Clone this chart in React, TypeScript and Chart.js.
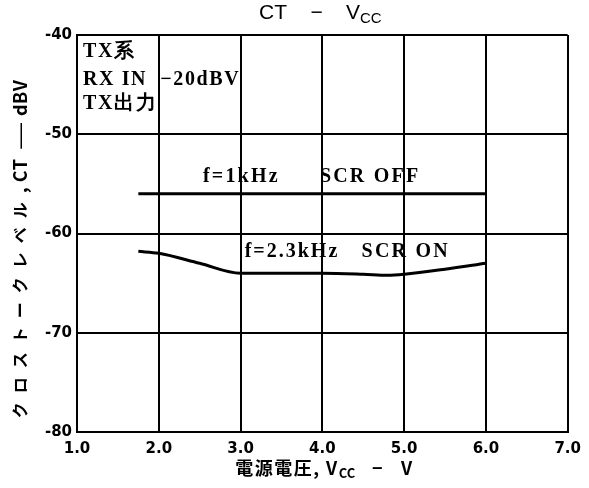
import React, { useEffect, useRef } from "react";
import { Chart, registerables } from "chart.js";

Chart.register(...registerables);

const xTicks = [1, 2, 3, 4, 5, 6, 7];
const yTicks = [-80, -70, -60, -50, -40];

const scrOffX = [1.75, 2.0, 3.0, 4.0, 5.0, 6.0];
const scrOffY = [-56, -56, -56, -56, -56, -56];

const scrOnX = [1.75, 2.0, 2.5, 3.0, 3.5, 4.0, 4.5, 4.8, 5.0, 5.5, 6.0];
const scrOnY = [-61.8, -62.0, -63.0, -64.0, -64.0, -64.0, -64.1, -64.2, -64.1, -63.6, -63.0];

const noteLines = ["TX系", "RX IN  −20dBV", "TX出力"];
const offFreq = "f=1kHz";
const offMode = "SCR OFF";
const onFreq = "f=2.3kHz";
const onMode = "SCR ON";

type Seg = { t: string; sub?: boolean; sp?: number; sz?: number };

function drawSegs(
  ctx: CanvasRenderingContext2D,
  segs: Seg[],
  x: number,
  y: number,
  size: number,
  font: string,
  align: "left" | "center",
  weight = "normal",
  spacing = 0
) {
  const setFont = (s: Seg) => {
    const base = s.sz !== undefined ? s.sz : size;
    ctx.font = `${weight} ${s.sub ? Math.round(base * 0.72) : base}px ${font}`;
    const sp = s.sp !== undefined ? s.sp : s.sub ? 0 : spacing;
    (ctx as any).letterSpacing = `${sp}px`;
  };
  const widths = segs.map((s) => {
    setFont(s);
    return ctx.measureText(s.t).width;
  });
  const total = widths.reduce((a, b) => a + b, 0);
  let cx = align === "center" ? x - total / 2 : x;
  segs.forEach((s, i) => {
    setFont(s);
    ctx.textAlign = "left";
    ctx.textBaseline = "middle";
    ctx.fillText(s.t, cx, s.sub ? y + size * 0.28 : y);
    cx += widths[i];
  });
  (ctx as any).letterSpacing = "0px";
}

const SERIF = "'Liberation Serif', serif";
const JP = "'Noto Sans CJK JP', sans-serif";

const textPlugin = {
  id: "texts",
  afterDraw(chart: any) {
    const ctx = chart.ctx as CanvasRenderingContext2D;
    const xs = chart.scales.x;
    const ys = chart.scales.y;
    const area = chart.chartArea;
    ctx.save();
    ctx.fillStyle = "#000";
    // title
    drawSegs(
      ctx,
      [{ t: "CT    −    V" }, { t: "CC", sub: true }],
      (area.left + area.right) / 2 - 2,
      13,
      21,
      "'Liberation Sans', sans-serif",
      "center"
    );
    // note block
    const noteY = [52, 79.5, 104];
    noteLines.forEach((l, i) => drawSegs(ctx, [{ t: l }], area.left + 6, noteY[i], 20, SERIF, "left", "bold", 1.6));
    // series labels
    const yOff = ys.getPixelForValue(-54.3);
    drawSegs(ctx, [{ t: offFreq }], xs.getPixelForValue(2.54), yOff, 20, SERIF, "left", "bold", 2.2);
    drawSegs(ctx, [{ t: offMode }], xs.getPixelForValue(3.97), yOff, 20, SERIF, "left", "bold", 2.2);
    const yOn = ys.getPixelForValue(-61.8);
    drawSegs(ctx, [{ t: onFreq }], xs.getPixelForValue(3.05), yOn, 20, SERIF, "left", "bold", 2.0);
    drawSegs(ctx, [{ t: onMode }], xs.getPixelForValue(4.48), yOn, 20, SERIF, "left", "bold", 2.2);
    // x title
    drawSegs(
      ctx,
      [{ t: "電源電圧, V" }, { t: "CC", sub: true }, { t: "   −   V" }],
      (area.left + area.right) / 2 + 2,
      468,
      18,
      JP,
      "center",
      "bold",
      1.5
    );
    // y title
    ctx.translate(20, 249);
    ctx.rotate(-Math.PI / 2);
    drawSegs(
      ctx,
      [
        { t: "クロストークレベル", sp: 9 },
        { t: ", CT  ", sp: 0.5, sz: 18 },
        { t: "——", sp: -3 },
        { t: "  dBV", sp: 0.5, sz: 18 },
      ],
      0,
      0,
      16,
      JP,
      "center",
      "bold",
      0
    );
    ctx.restore();
  },
};

export default function App() {
  const ref = useRef<HTMLCanvasElement | null>(null);
  useEffect(() => {
    document.body.style.margin = "0";
    const canvas = ref.current!;
    const chart = new Chart(canvas, {
      type: "line",
      data: {
        datasets: [
          {
            label: "f=1kHz SCR OFF",
            data: scrOffX.map((x, i) => ({ x, y: scrOffY[i] })),
            borderColor: "#000",
            borderWidth: 3,
            pointRadius: 0,
          },
          {
            label: "f=2.3kHz SCR ON",
            data: scrOnX.map((x, i) => ({ x, y: scrOnY[i] })),
            borderColor: "#000",
            borderWidth: 3,
            pointRadius: 0,
            cubicInterpolationMode: "monotone",
          },
        ],
      },
      options: {
        responsive: false,
        animation: false,
        devicePixelRatio: 1,
        layout: { padding: { top: 35, right: 21, left: 0, bottom: 0 } },
        plugins: { legend: { display: false }, title: { display: false }, tooltip: { enabled: false } },
        scales: {
          x: {
            type: "linear",
            min: 1,
            max: 7,
            afterBuildTicks: (s: any) => {
              s.ticks = xTicks.map((v) => ({ value: v }));
            },
            afterFit: (s: any) => {
              s.height = 56;
            },
            grid: { color: "#000", lineWidth: 2, drawTicks: false },
            border: { color: "#000", width: 2 },
            ticks: {
              color: "#000",
              padding: 8,
              maxRotation: 0,
              font: { family: "'DejaVu Sans', sans-serif", size: 15, weight: "bold" },
              callback: (v: any) => Number(v).toFixed(1),
            },
          },
          y: {
            type: "linear",
            min: -80,
            max: -40,
            afterBuildTicks: (s: any) => {
              s.ticks = yTicks.map((v) => ({ value: v }));
            },
            afterFit: (s: any) => {
              s.width = 77;
            },
            grid: { color: "#000", lineWidth: 2, drawTicks: false },
            border: { color: "#000", width: 2 },
            ticks: {
              color: "#000",
              padding: 5,
              font: { family: "'DejaVu Sans', sans-serif", size: 15, weight: "bold" },
              callback: (v: any) => String(v),
            },
          },
        },
      },
      plugins: [textPlugin],
    } as any);
    return () => chart.destroy();
  }, []);
  return (
    <div style={{ width: 589, height: 488, background: "#fff" }}>
      <canvas ref={ref} width={589} height={488} />
    </div>
  );
}
